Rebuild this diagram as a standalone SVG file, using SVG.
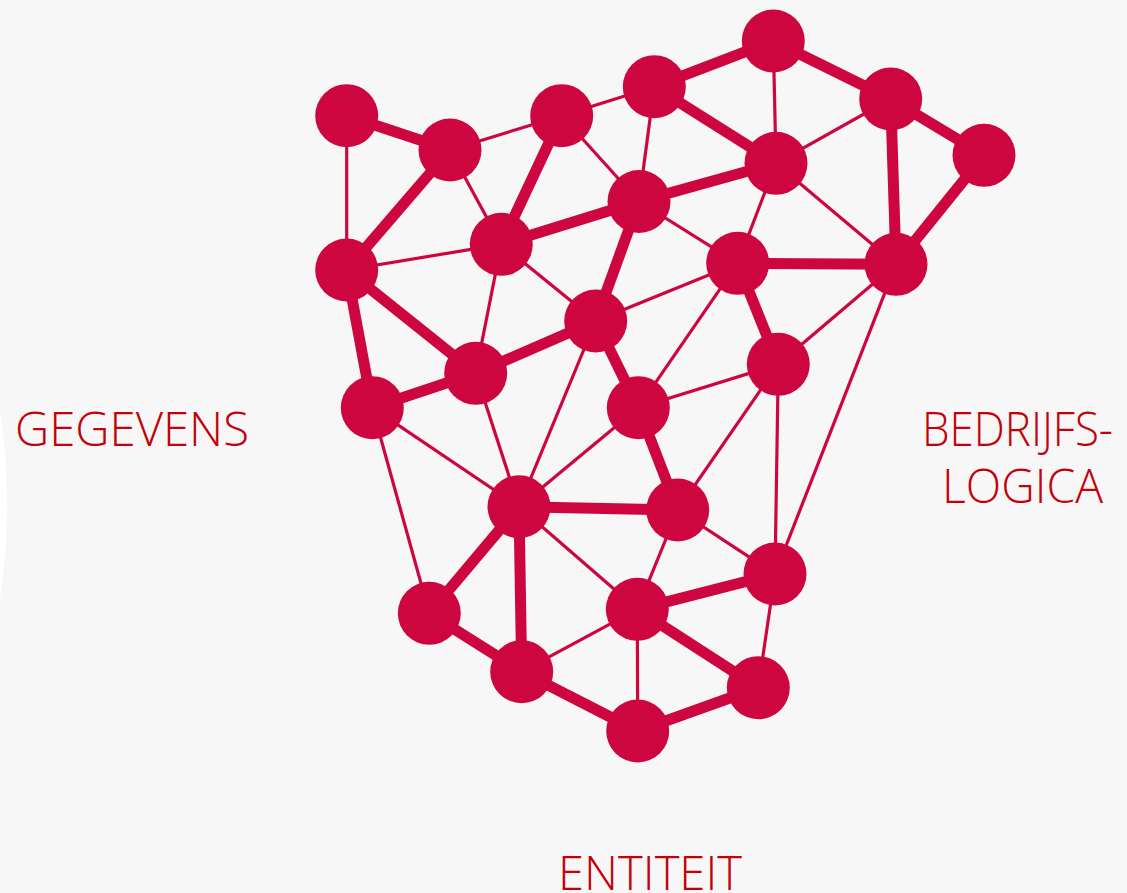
<svg xmlns="http://www.w3.org/2000/svg" width="1127" height="893" viewBox="0 0 1127 893">
<style>
.bg{fill:#f7f7f7}
.n{fill:#cd0640}
.k{stroke:#cd0640;stroke-width:11;stroke-linecap:butt;fill:none}
.t{stroke:#cd0640;stroke-width:3.2;fill:none}
.lbl{font-family:"Open Sans","Liberation Sans",sans-serif;font-weight:300;font-size:47px;fill:#c4000a}
</style>
<rect class="bg" x="0" y="0" width="1127" height="893"/>
<path d="M0,410 Q14,505 0,600 Z" fill="#ffffff"/>
<g id="connectors">
<line class="k" x1="346.7" y1="115.7" x2="450" y2="150"/>
<line class="t" x1="346.7" y1="115.7" x2="346.7" y2="270"/>
<line class="t" x1="450" y1="150" x2="561.7" y2="115.7"/>
<line class="k" x1="450" y1="150" x2="346.7" y2="270"/>
<line class="t" x1="450" y1="150" x2="501.3" y2="244.3"/>
<line class="t" x1="561.7" y1="115.7" x2="654.3" y2="86.7"/>
<line class="k" x1="561.7" y1="115.7" x2="501.3" y2="244.3"/>
<line class="t" x1="561.7" y1="115.7" x2="639" y2="201.5"/>
<line class="t" x1="654.3" y1="86.7" x2="639" y2="201.5"/>
<line class="k" x1="654.3" y1="86.7" x2="776" y2="163.3"/>
<line class="k" x1="654.3" y1="86.7" x2="773.3" y2="41"/>
<line class="k" x1="501.3" y1="244.3" x2="639" y2="201.5"/>
<line class="k" x1="639" y1="201.5" x2="776" y2="163.3"/>
<line class="k" x1="639" y1="201.5" x2="595.7" y2="321"/>
<line class="t" x1="639" y1="201.5" x2="737.7" y2="263.3"/>
<line class="t" x1="346.7" y1="270" x2="501.3" y2="244.3"/>
<line class="t" x1="501.3" y1="244.3" x2="475.7" y2="373.3"/>
<line class="t" x1="501.3" y1="244.3" x2="595.7" y2="321"/>
<line class="k" x1="346.7" y1="270" x2="372.3" y2="407.7"/>
<line class="k" x1="346.7" y1="270" x2="475.7" y2="373.3"/>
<line class="k" x1="773.3" y1="41" x2="890.7" y2="99"/>
<line class="t" x1="773.3" y1="41" x2="776" y2="163.3"/>
<line class="t" x1="890.7" y1="99" x2="776" y2="163.3"/>
<line class="k" x1="890.7" y1="99" x2="984" y2="155.3"/>
<line class="k" x1="890.7" y1="99" x2="896" y2="264.3"/>
<line class="k" x1="984" y1="155.3" x2="896" y2="264.3"/>
<line class="t" x1="776" y1="163.3" x2="737.7" y2="263.3"/>
<line class="t" x1="776" y1="163.3" x2="896" y2="264.3"/>
<line class="k" x1="737.7" y1="263.3" x2="896" y2="264.3"/>
<line class="t" x1="737.7" y1="263.3" x2="595.7" y2="321"/>
<line class="k" x1="737.7" y1="263.3" x2="778.3" y2="364.3"/>
<line class="t" x1="737.7" y1="263.3" x2="638.3" y2="407.7"/>
<line class="t" x1="896" y1="264.3" x2="778.3" y2="364.3"/>
<line class="t" x1="896" y1="264.3" x2="775" y2="574"/>
<line class="k" x1="595.7" y1="321" x2="475.7" y2="373.3"/>
<line class="k" x1="595.7" y1="321" x2="638.3" y2="407.7"/>
<line class="t" x1="595.7" y1="321" x2="519" y2="506.7"/>
<line class="k" x1="475.7" y1="373.3" x2="372.3" y2="407.7"/>
<line class="t" x1="475.7" y1="373.3" x2="519" y2="506.7"/>
<line class="t" x1="372.3" y1="407.7" x2="519" y2="506.7"/>
<line class="t" x1="372.3" y1="407.7" x2="429.3" y2="613.3"/>
<line class="t" x1="638.3" y1="407.7" x2="778.3" y2="364.3"/>
<line class="t" x1="638.3" y1="407.7" x2="519" y2="506.7"/>
<line class="k" x1="638.3" y1="407.7" x2="677.7" y2="510"/>
<line class="t" x1="778.3" y1="364.3" x2="677.7" y2="510"/>
<line class="t" x1="778.3" y1="364.3" x2="775" y2="574"/>
<line class="k" x1="519" y1="506.7" x2="677.7" y2="510"/>
<line class="k" x1="519" y1="506.7" x2="429.3" y2="613.3"/>
<line class="k" x1="519" y1="506.7" x2="521.7" y2="671.7"/>
<line class="t" x1="519" y1="506.7" x2="637.3" y2="609.3"/>
<line class="t" x1="677.7" y1="510" x2="637.3" y2="609.3"/>
<line class="t" x1="677.7" y1="510" x2="775" y2="574"/>
<line class="k" x1="429.3" y1="613.3" x2="521.7" y2="671.7"/>
<line class="t" x1="521.7" y1="671.7" x2="637.3" y2="609.3"/>
<line class="k" x1="521.7" y1="671.7" x2="637.7" y2="731"/>
<line class="k" x1="637.3" y1="609.3" x2="775" y2="574"/>
<line class="t" x1="637.3" y1="609.3" x2="637.7" y2="731"/>
<line class="k" x1="637.3" y1="609.3" x2="758.3" y2="687.7"/>
<line class="k" x1="758.3" y1="687.7" x2="637.7" y2="731"/>
<line class="t" x1="775" y1="574" x2="758.3" y2="687.7"/>
</g>
<g id="n1"><circle class="n" cx="346.7" cy="115.7" r="31.5"/></g>
<g id="n2"><circle class="n" cx="450" cy="150" r="31.5"/></g>
<g id="n3"><circle class="n" cx="561.7" cy="115.7" r="31.5"/></g>
<g id="n4"><circle class="n" cx="654.3" cy="86.7" r="31.5"/></g>
<g id="n5"><circle class="n" cx="639" cy="201.5" r="31.5"/></g>
<g id="n6"><circle class="n" cx="501.3" cy="244.3" r="31.5"/></g>
<g id="n7"><circle class="n" cx="346.7" cy="270" r="31.5"/></g>
<g id="n8"><circle class="n" cx="773.3" cy="41" r="31.5"/></g>
<g id="n9"><circle class="n" cx="890.7" cy="99" r="31.5"/></g>
<g id="n10"><circle class="n" cx="984" cy="155.3" r="31.5"/></g>
<g id="n11"><circle class="n" cx="776" cy="163.3" r="31.5"/></g>
<g id="n12"><circle class="n" cx="737.7" cy="263.3" r="31.5"/></g>
<g id="n13"><circle class="n" cx="896" cy="264.3" r="31.5"/></g>
<g id="n14"><circle class="n" cx="595.7" cy="321" r="31.5"/></g>
<g id="n15"><circle class="n" cx="475.7" cy="373.3" r="31.5"/></g>
<g id="n16"><circle class="n" cx="372.3" cy="407.7" r="31.5"/></g>
<g id="n17"><circle class="n" cx="638.3" cy="407.7" r="31.5"/></g>
<g id="n18"><circle class="n" cx="778.3" cy="364.3" r="31.5"/></g>
<g id="n19"><circle class="n" cx="519" cy="506.7" r="31.5"/></g>
<g id="n20"><circle class="n" cx="677.7" cy="510" r="31.5"/></g>
<g id="n21"><circle class="n" cx="429.3" cy="613.3" r="31.5"/></g>
<g id="n22"><circle class="n" cx="775" cy="574" r="31.5"/></g>
<g id="n23"><circle class="n" cx="637.3" cy="609.3" r="31.5"/></g>
<g id="n24"><circle class="n" cx="521.7" cy="671.7" r="31.5"/></g>
<g id="n25"><circle class="n" cx="758.3" cy="687.7" r="31.5"/></g>
<g id="n26"><circle class="n" cx="637.7" cy="731" r="31.5"/></g>
<g id="labels">
<text class="lbl" x="15" y="446" textLength="234" lengthAdjust="spacingAndGlyphs">GEGEVENS</text>
<text class="lbl" x="922" y="446" textLength="191" lengthAdjust="spacingAndGlyphs">BEDRIJFS-</text>
<text class="lbl" x="942" y="503" textLength="161" lengthAdjust="spacingAndGlyphs">LOGICA</text>
<text class="lbl" x="558" y="890" textLength="184" lengthAdjust="spacingAndGlyphs">ENTITEIT</text>
</g>
</svg>
